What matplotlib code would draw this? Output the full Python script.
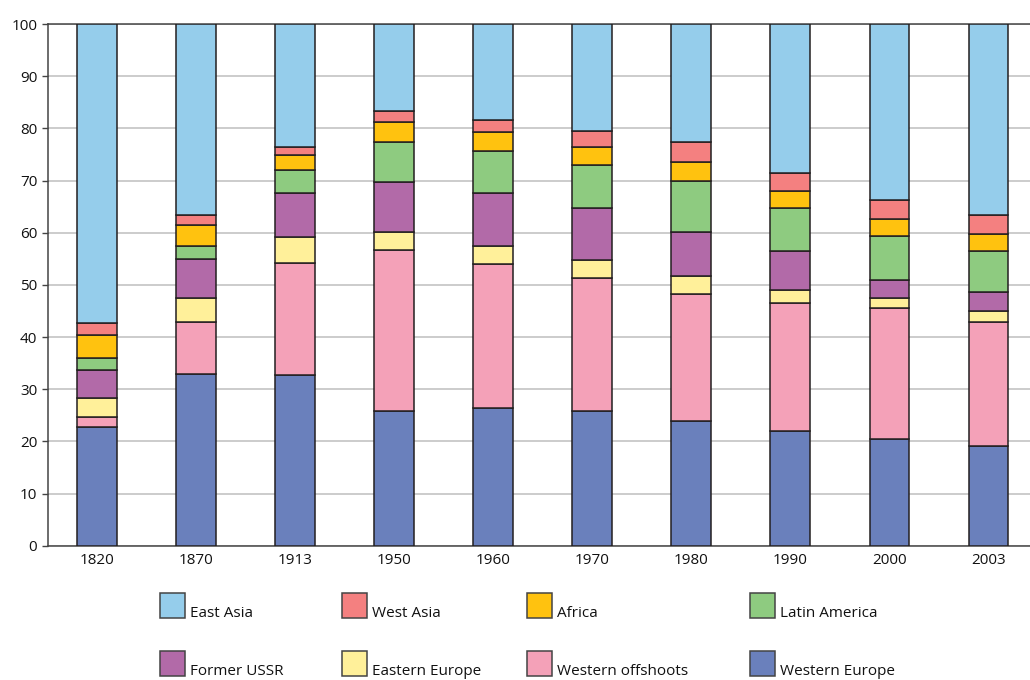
import matplotlib
matplotlib.use("Agg")
import matplotlib.pyplot as plt
from matplotlib.patches import Rectangle

plt.rcParams["font.family"] = ["Open Sans", "DejaVu Sans"]

# Share of world GDP by region (%)
years = ["1820", "1870", "1913", "1950", "1960", "1970", "1980", "1990", "2000", "2003"]
western_europe = [22.8, 32.9, 32.8, 25.9, 26.4, 25.9, 23.9, 22.0, 20.4, 19.1]
western_offshoots = [1.9, 10.0, 21.4, 30.7, 27.6, 25.5, 24.4, 24.6, 25.1, 23.8]
eastern_europe = [3.7, 4.5, 4.9, 3.5, 3.5, 3.4, 3.4, 2.4, 2.0, 2.0]
former_ussr = [5.3, 7.5, 8.5, 9.6, 10.1, 9.9, 8.5, 7.5, 3.5, 3.8]
latin_america = [2.3, 2.5, 4.4, 7.7, 8.0, 8.2, 9.8, 8.3, 8.4, 7.8]
africa = [4.4, 4.0, 2.9, 3.8, 3.7, 3.5, 3.6, 3.2, 3.2, 3.2]
west_asia = [2.3, 2.0, 1.5, 2.1, 2.3, 3.1, 3.8, 3.5, 3.7, 3.7]
east_asia = [57.3, 36.6, 23.6, 16.7, 18.4, 20.5, 22.6, 28.5, 33.7, 36.6]

# stacking order, bottom to top
series = [
    ("Western Europe", western_europe, "#6a80bc"),
    ("Western offshoots", western_offshoots, "#f4a1b8"),
    ("Eastern Europe", eastern_europe, "#fff09a"),
    ("Former USSR", former_ussr, "#b26aa8"),
    ("Latin America", latin_america, "#8ecb80"),
    ("Africa", africa, "#ffc20f"),
    ("West Asia", west_asia, "#f48080"),
    ("East Asia", east_asia, "#95cdeb"),
]
colors = {name: c for name, _, c in series}

W, H = 1030, 680
fig = plt.figure(figsize=(W / 100, H / 100), dpi=100)
ax = fig.add_axes([48.3 / W, 1 - 545.7 / H, 1 - 48.3 / W, (545.7 - 24) / H])

x = range(len(years))
bottom = [0.0] * len(years)
for name, vals, color in series:
    ax.bar(x, vals, bottom=bottom, width=0.40, color=color,
           edgecolor="#231f20", linewidth=1.1, zorder=3)
    bottom = [b + v for b, v in zip(bottom, vals)]

ax.set_xlim(-0.49, 9.42)
ax.set_ylim(0, 100)
ax.set_yticks(range(0, 101, 10))
ax.set_xticks(list(x))
ax.set_xticklabels(years)
ax.tick_params(axis="y", length=4, width=1, color="#444444", pad=4,
               labelsize=11, labelcolor="#111111")
ax.tick_params(axis="x", length=0, pad=5, labelsize=11, labelcolor="#111111")

ax.yaxis.grid(True, color="#c8c8c8", linewidth=1.3, zorder=0)
ax.set_axisbelow(True)
ax.spines["right"].set_visible(False)
for side in ["left", "bottom", "top"]:
    ax.spines[side].set_color("#444444")
    ax.spines[side].set_linewidth(1.1)

# legend drawn by hand: two rows of four
legend_rows = [
    ["East Asia", "West Asia", "Africa", "Latin America"],
    ["Former USSR", "Eastern Europe", "Western offshoots", "Western Europe"],
]
col_x = [160, 342, 527, 750]
row_top = [593, 651]
box = 25
for r, names in enumerate(legend_rows):
    for c, name in enumerate(names):
        x0, y0 = col_x[c], row_top[r]
        fig.patches.append(Rectangle(
            (x0 / W, 1 - (y0 + box) / H), box / W, box / H,
            transform=fig.transFigure, facecolor=colors[name],
            edgecolor="#444444", linewidth=1.1))
        fig.text((x0 + 30) / W, 1 - (y0 + box - 1) / H, name,
                 ha="left", va="baseline", fontsize=11, color="#111111")

fig.savefig("out.png", dpi=100)
